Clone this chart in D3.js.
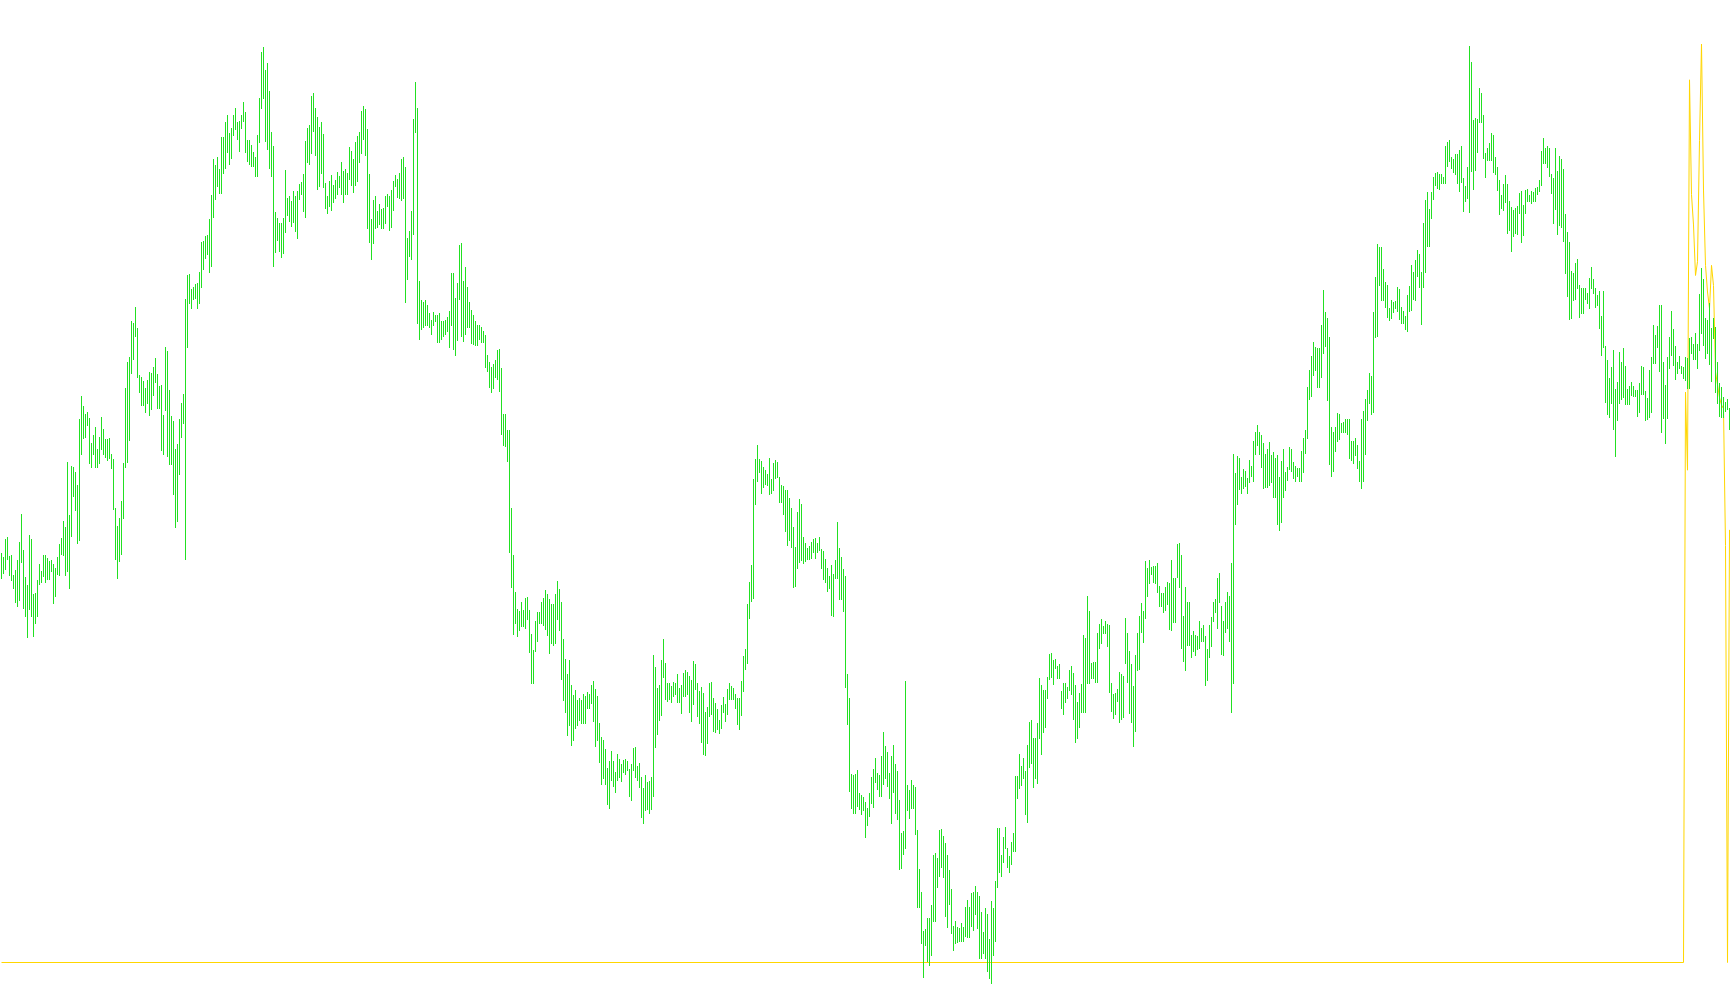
<!DOCTYPE html>
<html>
<head>
<meta charset="utf-8">
<script src="https://cdn.jsdelivr.net/npm/d3@7"></script>
<style>
  html, body { margin: 0; padding: 0; background: #ffffff; overflow: hidden; }
  svg { display: block; }
</style>
</head>
<body>
<div id="chart"></div>
<script>
// Bar highs (price points), one per bar, left to right
const highs = [
447,443,461,463,444,445,425,430,440,458,486,450,423,415,465,461,406,407,420,436,
429,445,445,442,439,440,436,432,443,456,462,479,473,538,485,534,533,528,515,581,
604,594,586,588,582,557,565,573,551,563,583,571,561,561,562,546,541,492,474,482,
499,537,612,638,643,679,677,693,672,625,623,619,612,620,628,627,633,642,626,614,
615,585,653,649,610,584,579,551,556,581,597,606,701,725,726,711,713,716,717,728,
758,759,764,765,781,805,841,835,843,831,863,863,878,885,867,872,885,892,878,879,
885,898,888,860,860,855,848,843,865,902,948,953,930,937,909,868,854,788,782,777,
777,782,830,802,804,799,809,804,809,816,818,826,859,872,875,904,907,892,883,873,
878,866,817,804,819,825,815,820,828,824,838,829,831,827,853,849,841,858,864,868,
889,894,891,871,826,781,800,804,789,796,791,792,804,806,804,810,819,825,821,827,
841,843,833,762,769,789,881,918,892,719,700,698,700,695,687,680,688,685,685,687,
679,679,680,683,689,727,727,702,717,755,757,719,733,713,698,690,685,679,675,675,
673,669,665,645,638,633,636,640,650,651,632,586,586,570,570,492,445,408,391,389,
398,390,402,403,390,366,350,379,388,388,398,402,410,406,401,396,396,406,419,411,
398,361,341,326,340,315,305,310,300,302,300,306,304,308,306,315,319,311,304,277,
263,260,251,232,239,249,239,228,246,241,236,240,241,239,231,236,252,253,234,237,
223,212,225,218,219,223,345,333,312,315,340,361,337,317,317,314,318,317,326,312,
315,327,330,328,324,320,339,336,317,309,313,307,288,293,317,318,302,297,291,280,
295,303,296,311,317,314,312,306,302,302,319,344,351,396,418,435,521,541,555,541,
539,533,530,526,542,521,537,540,538,523,515,514,510,510,502,492,473,453,488,501,
496,463,457,452,454,458,461,462,457,463,451,449,441,432,424,435,426,440,478,452,
443,431,424,326,302,226,225,226,230,207,205,203,198,192,207,223,231,242,227,225,
244,268,254,248,227,244,255,236,229,200,167,169,319,215,210,220,215,213,170,131,
108,69,71,82,82,95,145,147,142,170,171,164,157,145,130,111,74,79,73,72,
77,73,93,100,93,107,108,114,108,104,88,68,92,86,61,99,92,119,172,172,
145,163,173,152,144,158,167,224,224,246,234,242,229,255,278,280,262,262,277,322,
315,310,310,323,346,347,340,341,334,336,309,317,317,313,330,334,327,315,298,307,
316,365,362,404,389,337,338,338,367,376,381,374,379,376,375,317,306,307,311,328,
326,324,382,367,349,336,314,345,367,384,397,389,439,432,440,433,434,434,437,414,
407,407,413,418,417,440,422,422,456,457,445,384,413,398,398,365,369,365,364,379,
372,375,364,351,375,383,398,401,422,427,394,379,398,408,404,437,546,527,544,542,
523,531,529,522,540,534,559,568,575,568,565,557,546,551,558,545,548,542,545,523,
539,551,528,533,553,551,538,534,532,532,549,562,570,613,630,644,658,653,652,652,
675,710,688,682,663,573,568,573,587,586,577,578,581,581,581,559,559,562,555,539,
581,589,601,610,627,624,688,723,756,753,753,731,718,715,692,700,698,699,713,711,
693,689,684,705,714,735,728,740,750,746,728,777,800,808,791,808,823,827,828,826,
826,823,854,858,860,843,841,846,846,850,854,822,814,833,954,938,880,882,881,912,
907,885,847,852,857,867,865,843,833,820,805,816,825,816,799,793,790,792,794,807,
809,795,810,811,805,809,808,812,813,820,849,862,852,854,852,826,822,852,829,844,
841,831,786,768,758,729,727,737,741,715,712,712,712,707,722,733,721,712,705,709,
684,709,654,640,622,633,650,611,618,648,638,652,634,611,614,618,614,610,610,617,
634,633,609,602,630,643,675,665,674,695,695,638,615,643,663,689,671,654,638,644,
634,633,643,642,662,663,656,667,656,706,732,721,682,680,697,672,682,673,638,617,
613,603,598,601,592
];

// Bar lows (price points), one per bar
const lows = [
422,427,431,441,425,420,412,398,394,400,438,392,384,363,391,384,364,377,384,416,
418,424,418,421,421,429,397,404,426,425,446,445,425,429,412,464,504,490,457,460,
546,562,563,575,537,533,546,533,533,537,551,546,543,540,542,532,491,441,422,439,
446,482,533,538,560,627,641,664,623,608,595,595,588,597,585,591,605,618,592,592,
550,546,590,544,536,536,506,473,479,526,563,577,441,653,697,692,701,702,692,697,
713,731,742,746,728,734,783,801,814,807,807,827,832,848,836,842,865,871,861,849,
872,879,848,839,836,834,834,824,824,858,892,902,859,851,832,824,734,748,760,749,
743,747,768,785,779,774,778,769,762,801,806,789,783,838,836,847,869,845,811,814,
827,813,792,787,794,790,798,802,806,813,806,798,806,806,821,815,808,815,819,838,
847,861,845,772,758,741,757,772,773,776,772,772,777,794,770,773,790,814,803,802,
800,802,698,721,744,741,766,868,677,661,671,673,675,675,673,666,675,679,658,658,
661,664,666,669,653,675,651,645,660,701,664,659,666,673,673,657,656,655,655,661,
658,658,633,629,613,608,612,623,621,609,566,555,554,539,448,413,366,377,364,370,
374,374,372,381,348,317,317,349,359,377,377,375,371,365,347,357,355,357,381,370,
321,300,288,265,275,255,260,272,275,280,277,277,277,292,292,297,279,254,260,238,
216,222,216,196,192,220,214,208,220,223,219,228,226,230,204,200,230,223,220,213,
183,177,190,191,187,191,204,253,266,280,285,323,301,299,301,298,304,306,298,298,
287,304,304,306,288,279,296,311,284,277,258,246,245,257,284,286,269,268,271,267,
272,288,279,286,301,301,301,292,276,271,285,309,331,337,382,399,402,496,519,528,
507,513,516,515,506,507,510,522,523,498,498,486,469,455,460,453,413,414,432,438,
440,437,439,441,441,442,448,442,448,450,432,421,418,409,412,385,384,422,422,401,
401,389,313,276,209,192,187,187,194,191,186,190,163,175,184,197,193,218,211,204,
204,216,222,214,202,177,208,187,181,131,132,146,152,190,182,192,192,166,93,93,
57,23,55,39,35,45,79,79,113,124,133,123,84,73,96,67,50,57,58,59,
59,59,64,63,63,74,70,86,72,42,42,47,42,29,22,17,45,59,113,128,
124,138,152,133,128,136,149,149,202,212,215,222,186,178,233,237,213,222,217,262,
246,268,273,302,321,323,316,332,322,322,292,286,298,302,310,306,281,258,262,273,
288,288,288,317,317,322,322,318,318,352,357,367,367,354,308,289,282,286,299,278,
281,283,337,318,287,278,254,269,330,331,368,358,382,404,417,426,418,417,408,394,
394,388,390,396,371,370,378,378,423,413,352,339,330,355,355,343,349,345,351,352,
359,359,315,320,343,354,379,388,372,398,346,345,368,372,359,288,317,476,496,511,
507,512,514,507,518,524,519,546,555,546,533,512,513,513,515,518,503,503,476,470,
478,503,510,520,531,529,522,519,524,519,519,528,547,562,601,604,625,630,613,613,
623,647,654,600,536,524,529,549,559,561,568,568,568,566,542,540,537,545,532,519,
512,519,546,580,597,586,588,663,664,715,700,700,693,683,680,682,688,692,689,681,
677,677,671,669,689,690,701,700,724,713,676,713,728,754,754,782,801,815,812,811,
817,817,817,834,839,832,828,826,817,809,818,789,799,802,788,829,811,830,848,878,
878,842,823,840,840,840,828,826,810,786,792,790,798,767,770,749,764,767,766,787,
758,765,787,799,799,797,799,799,806,809,815,837,837,833,824,807,777,791,766,775,
773,759,727,704,681,682,700,701,712,683,687,687,701,697,692,712,707,693,695,672,
645,653,598,586,583,597,571,544,580,597,601,603,596,596,596,605,604,604,584,588,
606,606,580,581,583,588,637,637,653,629,568,582,557,582,632,645,635,621,627,632,
627,622,620,612,612,647,641,641,632,650,667,655,642,647,636,619,662,608,597,584,
583,583,589,591,571
];

// Indicator line (separate 0..100 scale): flat at zero, then active on the last bars
const signalIndex  = [0, 841, 842, 843, 844, 845, 846, 847, 848, 849, 850, 851, 852, 853, 854, 855, 856, 857, 858, 859, 860, 861, 862, 863, 864];
const signalValues = [0, 0, 62.1, 53.6, 96.1, 83.6, 80.3, 74.8, 76.3, 89.5, 100, 84.1, 75.9, 73.0, 71.2, 75.9, 73.7, 64.3, 62.9, 61.5, 60.7, 60.3, 45.4, 0, 47.1];

const W = 1730, H = 1005;
const barColor = "#22e022";
const signalColor = "#ffd600";

const svg = d3.select("#chart").append("svg")
  .attr("width", W).attr("height", H)
  .attr("viewBox", `0 0 ${W} ${H}`);

svg.append("rect").attr("width", W).attr("height", H).attr("fill", "#ffffff");

const n = highs.length;
const x = d3.scaleLinear().domain([0, n - 1]).range([1, 1 + 2 * (n - 1)]);
const y = d3.scaleLinear().domain([0, 1000]).range([1000, 0]);
const ySignal = d3.scaleLinear().domain([0, 100]).range([962.5, 44]);

// indicator line
const signal = signalIndex.map((d, k) => ({ i: d, v: signalValues[k] }));
svg.append("path")
  .datum(signal)
  .attr("fill", "none")
  .attr("stroke", signalColor)
  .attr("stroke-width", 1)
  .attr("d", d3.line().x(d => x(d.i) + 0.5).y(d => ySignal(d.v)));

// bars
const bars = highs.map((h, i) => ({ i, h, l: lows[i] }));
svg.append("g")
  .attr("shape-rendering", "crispEdges")
  .selectAll("rect")
  .data(bars)
  .join("rect")
  .attr("x", d => x(d.i))
  .attr("width", 1)
  .attr("y", d => y(d.h))
  .attr("height", d => y(d.l) - y(d.h) + 1)
  .attr("fill", barColor);
</script>
</body>
</html>
